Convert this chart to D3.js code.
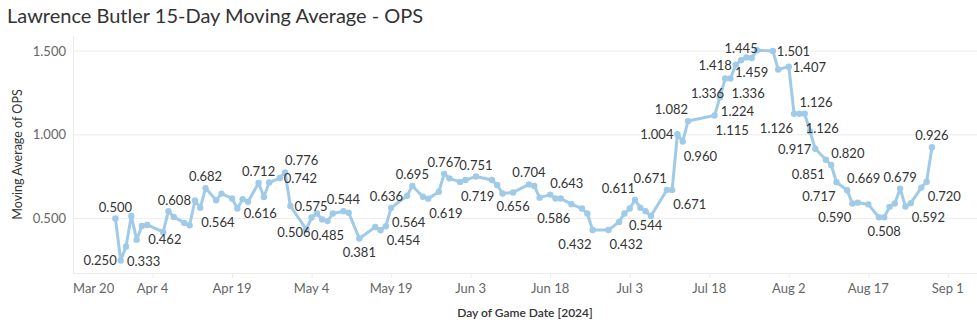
<!DOCTYPE html>
<html>
<head>
<meta charset="utf-8">
<script src="https://cdn.jsdelivr.net/npm/d3@7"></script>
<style>
  body { margin: 0; background: #fff; }
  svg text { font-family: Lato, "Noto Sans", sans-serif; }
</style>
</head>
<body>
<div id="chart"></div>
<script>
// game days and 15-day moving average of OPS
const gameDates = [
  "2024-03-28","2024-03-29","2024-03-30","2024-03-31","2024-04-01","2024-04-02","2024-04-03",
  "2024-04-06","2024-04-07","2024-04-08","2024-04-10","2024-04-11","2024-04-12","2024-04-13",
  "2024-04-14","2024-04-16","2024-04-17","2024-04-19","2024-04-20","2024-04-21","2024-04-22",
  "2024-04-24","2024-04-25","2024-04-26","2024-04-28","2024-04-29","2024-04-30","2024-05-03",
  "2024-05-04","2024-05-05","2024-05-06","2024-05-07","2024-05-08","2024-05-10","2024-05-11",
  "2024-05-13","2024-05-16","2024-05-17","2024-05-18","2024-05-19","2024-05-22","2024-05-23",
  "2024-05-25","2024-05-26","2024-05-28","2024-05-29","2024-05-30","2024-06-01","2024-06-02",
  "2024-06-04","2024-06-07","2024-06-08","2024-06-09","2024-06-11","2024-06-14","2024-06-15",
  "2024-06-16","2024-06-18","2024-06-19","2024-06-20","2024-06-22","2024-06-24","2024-06-25",
  "2024-06-26","2024-06-29","2024-07-01","2024-07-02","2024-07-03","2024-07-04","2024-07-05",
  "2024-07-06","2024-07-07","2024-07-10","2024-07-11","2024-07-12","2024-07-13","2024-07-14",
  "2024-07-19","2024-07-20","2024-07-21","2024-07-22","2024-07-23","2024-07-24","2024-07-25",
  "2024-07-26","2024-07-27","2024-07-30","2024-07-31","2024-08-02","2024-08-03","2024-08-04",
  "2024-08-05","2024-08-06","2024-08-07","2024-08-09","2024-08-10","2024-08-11","2024-08-13",
  "2024-08-14","2024-08-15","2024-08-17","2024-08-19","2024-08-20","2024-08-21","2024-08-22",
  "2024-08-23","2024-08-24","2024-08-25","2024-08-27","2024-08-28","2024-08-29"
];
const opsMovingAvg = [
  0.500,0.250,0.333,0.516,0.374,0.456,0.462,
  0.420,0.544,0.510,0.474,0.460,0.608,0.564,
  0.682,0.609,0.649,0.620,0.560,0.616,0.600,
  0.712,0.629,0.715,0.742,0.776,0.575,0.435,
  0.506,0.530,0.495,0.485,0.530,0.544,0.535,
  0.381,0.450,0.430,0.454,0.564,0.636,0.695,
  0.630,0.619,0.660,0.767,0.740,0.719,0.730,
  0.751,0.730,0.700,0.650,0.656,0.704,0.695,
  0.625,0.643,0.620,0.620,0.586,0.560,0.530,
  0.432,0.432,0.480,0.530,0.560,0.611,0.565,
  0.544,0.515,0.671,0.671,1.004,0.960,1.082,
  1.115,1.224,1.336,1.336,1.418,1.445,1.462,
  1.459,1.505,1.501,1.390,1.407,1.126,1.126,
  1.126,1.020,0.917,0.851,0.820,0.717,0.669,
  0.590,0.595,0.585,0.508,0.508,0.570,0.590,
  0.679,0.572,0.592,0.685,0.720,0.926
];

// which points carry a value label, and on which side of the mark it sits
const labelDates = [
  "2024-03-28","2024-03-29","2024-03-30","2024-04-03","2024-04-12","2024-04-13","2024-04-14",
  "2024-04-21","2024-04-24","2024-04-28","2024-04-29","2024-04-30","2024-05-04","2024-05-07",
  "2024-05-10","2024-05-13","2024-05-18","2024-05-19","2024-05-22","2024-05-23","2024-05-26",
  "2024-05-29","2024-06-01","2024-06-04","2024-06-11","2024-06-14","2024-06-18","2024-06-22",
  "2024-06-26","2024-06-29","2024-07-04","2024-07-06","2024-07-10","2024-07-11","2024-07-12",
  "2024-07-13","2024-07-14","2024-07-19","2024-07-20","2024-07-21","2024-07-22","2024-07-23",
  "2024-07-24","2024-07-26","2024-07-30","2024-08-02","2024-08-03","2024-08-04","2024-08-05",
  "2024-08-07","2024-08-09","2024-08-10","2024-08-11","2024-08-13","2024-08-14","2024-08-20",
  "2024-08-23","2024-08-25","2024-08-28","2024-08-29"
];
const labelSides = [
  "t","l","br","br","l","br","t",
  "br","t","r","tr","r","bl","b",
  "t","b","br","br","l","t","br",
  "t","br","t","b","t","tr","bl",
  "bl","br","tl","b","tl","br","l",
  "br","tl","br","br","bl","br","l",
  "t","b","r","r","bl","tr","br",
  "l","bl","tr","bl","tr","bl","b",
  "t","br","br","t"
];

const yTicks = [0.5, 1.0, 1.5];
const xTickLabels = ["Mar 20","Apr 4","Apr 19","May 4","May 19","Jun 3","Jun 18","Jul 3","Jul 18","Aug 2","Aug 17","Sep 1"];

const width = 977, height = 331;
const margin = {top: 36, right: 0, bottom: 58, left: 73};
const parse = d3.timeParse("%Y-%m-%d");

let data = gameDates.map((d, i) => ({date: parse(d), value: opsMovingAvg[i]}));
let sideByDate = new Map(labelDates.map((d, i) => [d, labelSides[i]]));

let svg = d3.select("#chart").append("svg")
  .attr("width", width)
  .attr("height", height);

let x = d3.scaleTime()
  .domain([new Date(2024, 2, 20), new Date(2024, 8, 6, 12)])
  .range([margin.left, width - margin.right]);

let y = d3.scaleLinear()
  .domain([0.175, 1.59])
  .range([height - margin.bottom, margin.top]);

// title
svg.append("text")
  .attr("x", 7)
  .attr("y", 23)
  .style("font-size", "20px")
  .style("fill", "#333")
  .text("Lawrence Butler 15-Day Moving Average - OPS");

// gridlines
svg.append("g")
  .selectAll("line")
  .data(yTicks)
  .enter().append("line")
  .attr("x1", margin.left)
  .attr("x2", width)
  .attr("y1", d => y(d))
  .attr("y2", d => y(d))
  .style("stroke", "#ececec")
  .style("stroke-width", 1);

// left axis line and bottom axis line
svg.append("line")
  .attr("x1", margin.left + 0.5).attr("x2", margin.left + 0.5)
  .attr("y1", margin.top).attr("y2", height - margin.bottom)
  .style("stroke", "#ececec");
svg.append("line")
  .attr("x1", margin.left).attr("x2", width)
  .attr("y1", height - margin.bottom + 0.5).attr("y2", height - margin.bottom + 0.5)
  .style("stroke", "#ececec");

// y axis labels
svg.append("g")
  .selectAll("text")
  .data(yTicks)
  .enter().append("text")
  .attr("x", margin.left - 7)
  .attr("y", d => y(d))
  .attr("dy", "0.35em")
  .style("text-anchor", "end")
  .style("font-size", "13px")
  .style("fill", "#666")
  .text(d => d3.format(".3f")(d));

// x axis ticks, every 15 days from Mar 20
let start = new Date(2024, 2, 20);
let xTicks = xTickLabels.map((l, i) => ({date: d3.timeDay.offset(start, 15 * i), label: l}));

svg.append("g")
  .selectAll("line")
  .data(xTicks.slice(1))
  .enter().append("line")
  .attr("x1", d => x(d.date) + 0.5)
  .attr("x2", d => x(d.date) + 0.5)
  .attr("y1", height - margin.bottom)
  .attr("y2", height - margin.bottom + 5)
  .style("stroke", "#ececec");

svg.append("g")
  .selectAll("text")
  .data(xTicks)
  .enter().append("text")
  .attr("x", (d, i) => i === 0 ? margin.left : x(d.date))
  .attr("y", height - margin.bottom + 20)
  .style("text-anchor", (d, i) => i === 0 ? "start" : "middle")
  .style("font-size", "13px")
  .style("fill", "#666")
  .text(d => d.label);

// axis titles
svg.append("text")
  .attr("x", (margin.left + width) / 2)
  .attr("y", 317)
  .style("text-anchor", "middle")
  .style("font-size", "12px")
  .style("font-weight", "600")
  .style("fill", "#333")
  .text("Day of Game Date [2024]");

svg.append("text")
  .attr("transform", "translate(22," + (margin.top + height - margin.bottom) / 2 + ") rotate(-90)")
  .style("text-anchor", "middle")
  .style("font-size", "12.5px")
  .style("fill", "#333")
  .text("Moving Average of OPS");

// the line
let line = d3.line()
  .x(d => x(d.date))
  .y(d => y(d.value));

svg.append("path")
  .datum(data)
  .attr("d", line)
  .style("fill", "none")
  .style("stroke", "#a0cbe8")
  .style("stroke-width", 3)
  .style("stroke-linejoin", "round");

svg.append("g")
  .selectAll("circle")
  .data(data)
  .enter().append("circle")
  .attr("cx", d => x(d.date))
  .attr("cy", d => y(d.value))
  .attr("r", 3.2)
  .style("fill", "#a0cbe8");

// value labels
let offsets = {
  t:  {dx: 0,  dy: -7, anchor: "middle"},
  b:  {dx: 0,  dy: 19, anchor: "middle"},
  l:  {dx: -4, dy: 5,  anchor: "end"},
  r:  {dx: 4,  dy: 5,  anchor: "start"},
  tl: {dx: 0,  dy: -7, anchor: "end"},
  tr: {dx: 0,  dy: -7, anchor: "start"},
  bl: {dx: -1, dy: 19, anchor: "end"},
  br: {dx: 1,  dy: 19, anchor: "start"}
};

let labelled = data.filter(d => sideByDate.has(d3.timeFormat("%Y-%m-%d")(d.date)));

svg.append("g")
  .selectAll("text")
  .data(labelled)
  .enter().append("text")
  .each(function(d) {
    let o = offsets[sideByDate.get(d3.timeFormat("%Y-%m-%d")(d.date))];
    d3.select(this)
      .attr("x", x(d.date) + o.dx)
      .attr("y", y(d.value) + o.dy)
      .style("text-anchor", o.anchor);
  })
  .style("font-size", "13px")
  .style("fill", "#333")
  .text(d => d3.format(".3f")(d.value));
</script>
</body>
</html>
